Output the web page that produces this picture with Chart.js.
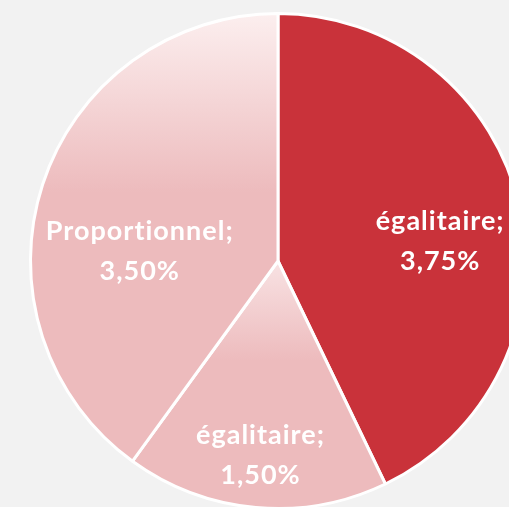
<!DOCTYPE html>
<html>
<head>
<meta charset="utf-8">
<script src="https://cdn.jsdelivr.net/npm/chart.js@4"></script>
<style>
  html, body {
    margin: 0;
    padding: 0;
    width: 509px;
    height: 507px;
    overflow: hidden;
    background: #f2f2f2;
  }
  #wrap {
    position: absolute;
    left: 18px;
    top: 1px;
    width: 520px;
    height: 520px;
  }
</style>
</head>
<body>
<div id="wrap"><canvas id="pie" width="520" height="520"></canvas></div>
<script>
  const categories = ['égalitaire', 'égalitaire', 'Proportionnel'];
  const rates = [3.75, 1.50, 3.50];

  // placement of the two-line labels, relative to each slice's bisector
  const labelRadius = [0.66, 0.79, 0.56];
  const labelShiftDeg = [6, 0, -14];

  const solidColors = ['#c9323a', '#edbbbd', '#edbbbd'];
  const lightTops = [null, '#f8e2e3', '#fcefef'];

  function formatRate(v) {
    return v.toFixed(2).replace('.', ',') + '%';
  }

  function sliceFill(ctx) {
    const i = ctx.dataIndex;
    const chart = ctx.chart;
    const area = chart.chartArea;
    if (!area || !lightTops[i]) {
      return solidColors[i];
    }
    const cx = (area.left + area.right) / 2;
    const cy = (area.top + area.bottom) / 2;
    const r = Math.min(area.right - area.left, area.bottom - area.top) / 2;

    const total = rates.reduce((a, b) => a + b, 0);
    let start = -Math.PI / 2;
    for (let k = 0; k < i; k++) {
      start += rates[k] / total * Math.PI * 2;
    }
    const end = start + rates[i] / total * Math.PI * 2;

    const ys = [cy, cy + Math.sin(start) * r, cy + Math.sin(end) * r];
    [-Math.PI / 2, Math.PI / 2, Math.PI * 1.5].forEach(a => {
      if (a > start && a < end) ys.push(cy + Math.sin(a) * r);
    });
    const top = Math.min(...ys);
    const bottom = Math.max(...ys);

    const g = chart.ctx.createLinearGradient(0, top, 0, top + (bottom - top) * 0.4);
    g.addColorStop(0, lightTops[i]);
    g.addColorStop(1, solidColors[i]);
    return g;
  }

  const sliceLabels = {
    id: 'sliceLabels',
    afterDatasetsDraw(chart) {
      const c = chart.ctx;
      const meta = chart.getDatasetMeta(0);
      c.save();
      c.fillStyle = '#ffffff';
      c.font = 'bold 27px Lato, "Open Sans", sans-serif';
      c.letterSpacing = '1px';
      c.textAlign = 'center';
      c.textBaseline = 'middle';
      meta.data.forEach((arc, i) => {
        const p = arc.getProps(['x', 'y', 'startAngle', 'endAngle', 'outerRadius'], true);
        const mid = (p.startAngle + p.endAngle) / 2 + labelShiftDeg[i] * Math.PI / 180;
        const lx = p.x + Math.cos(mid) * p.outerRadius * labelRadius[i];
        const ly = p.y + Math.sin(mid) * p.outerRadius * labelRadius[i];
        c.fillText(categories[i] + ';', lx, ly - 20);
        c.fillText(formatRate(rates[i]), lx, ly + 20);
      });
      c.restore();
    }
  };

  new Chart(document.getElementById('pie').getContext('2d'), {
    type: 'pie',
    data: {
      labels: categories,
      datasets: [{
        data: rates,
        backgroundColor: sliceFill,
        borderColor: '#ffffff',
        borderWidth: 3,
        hoverOffset: 0
      }]
    },
    options: {
      responsive: false,
      animation: false,
      layout: {
        padding: 11
      },
      plugins: {
        legend: { display: false },
        tooltip: { enabled: false }
      }
    },
    plugins: [sliceLabels]
  });
</script>
</body>
</html>
